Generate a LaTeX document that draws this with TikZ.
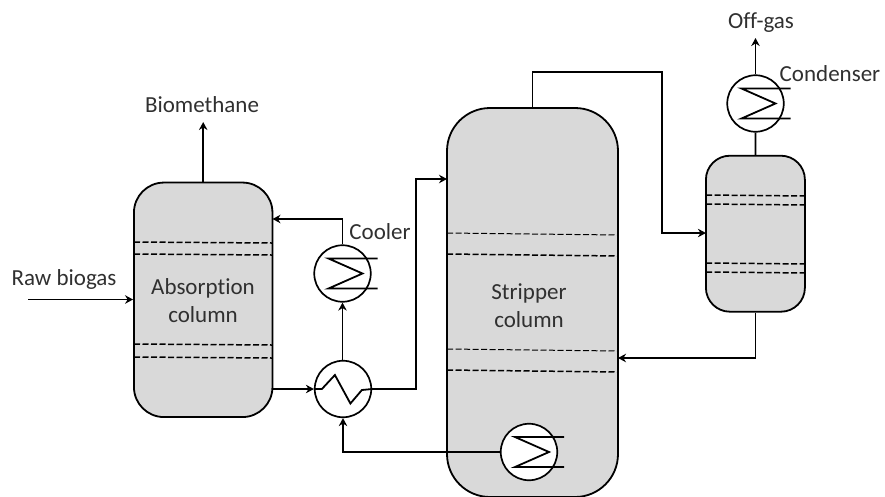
\documentclass[tikz,border=0pt]{standalone}
\usepackage{fontspec}
\setmainfont{Carlito}[Ligatures=NoCommon]
\usetikzlibrary{arrows.meta}
\definecolor{ColumnGray}{HTML}{D9D9D9}
\definecolor{LabelGray}{HTML}{303030}
\begin{document}
\begin{tikzpicture}[x=1pt,y=-1pt,>={Stealth[length=8pt,width=8.5pt]},
  font=\fontsize{23}{28}\selectfont,
  column/.style={draw=black,fill=ColumnGray,line width=1.8pt,inner sep=0pt},
  exchanger/.style={circle,draw=black,fill=white,line width=1.7pt,
    minimum size=56.5pt,inner sep=0pt},
  tray/.style={black,line width=1.5pt,dash pattern=on 6pt off 2.5pt},
  thintray/.style={tray,line width=1pt},
  pipe/.style={line width=1.8pt},
  stream/.style={pipe,->},
  tag/.style={text=LabelGray,align=center,inner sep=0pt}]
  \path[use as bounding box] (0,0) rectangle (885,496);
  % columns
  \node[column,rounded corners=30pt,minimum width=138.5pt,minimum height=234.5pt]
    (absorber) at (203.2,299.8) {};
  \node[column,rounded corners=43pt,minimum width=171pt,minimum height=389pt]
    (stripper) at (532.5,302.5) {};
  \node[column,rounded corners=24pt,minimum width=99pt,minimum height=156pt]
    (drum) at (755.4,233.7) {};
  % trays
  \draw[tray] (134,242) -- (272,243);
  \draw[tray] (134,254) -- (272,255);
  \draw[tray] (134,344) -- (272,345);
  \draw[tray] (134,357) -- (272,358);
  \draw[thintray] (447,233) -- (618,235);
  \draw[tray] (447,254) -- (618,256);
  \draw[thintray] (447,349) -- (618,351);
  \draw[tray] (447,370) -- (618,372);
  \draw[tray] (706,195) -- (805,196);
  \draw[tray] (706,204) -- (805,205);
  \draw[tray] (706,263) -- (805,264);
  \draw[tray] (706,272) -- (805,273);
  % heat exchangers
  \node[exchanger] (cooler) at (342.5,273.5) {};
  \node[exchanger] (crossflow) at (343,389) {};
  \node[exchanger] (reboiler) at (529,452) {};
  \node[exchanger] (condenser) at (755.5,103.5) {};
  \foreach \unit in {cooler,reboiler,condenser} {
    \draw[pipe] ([shift={(35,-15)}]\unit.center) -- ++(-49,0)
      -- ++(34,15) -- ++(-34,15) -- ++(49,0);
  }
  \draw[pipe] (crossflow.west) -- ++(8,0) -- ++(13,-14) -- ++(15.5,28.5)
    -- ++(11.5,-13.5) -- (crossflow.east);
  % streams
  \coordinate (biomethaneend) at (203.2,122);
  \coordinate (biogasstart) at (28,299.5);
  \coordinate (offgasend) at (755.5,38);
  \coordinate (absorberreturn) at (272.5,219);
  \coordinate (stripperfeed) at (447,179);
  \coordinate (stripperreturn) at (618,358);
  \coordinate (overheadfeed) at (705.9,233);
  \draw[stream] (absorber.north) -- (biomethaneend);
  \draw[stream] (biogasstart) -- (absorber.west |- biogasstart);
  \draw[stream] (cooler.north) |- (absorberreturn);
  \draw[stream] (crossflow.north -| cooler) -- (cooler.south);
  \draw[stream] (absorber.east |- crossflow) -- (crossflow.west);
  \draw[stream] (crossflow.east) -- (416,389) |- (stripperfeed);
  \draw[stream] (reboiler.west) -| (crossflow.south);
  \draw[stream] (stripper.north) -- (532.5,72) -- (662,72) |- (overheadfeed);
  \draw[pipe] (drum.north) -- (condenser.south);
  \draw[stream] (condenser.north) -- (offgasend);
  \draw[stream] (drum.south) |- (stripperreturn);
  % labels
  \node[tag] (biomethane) at (202,105) {Biomethane};
  \node[tag] (rawbiogas) at (64,279) {Raw biogas};
  \node[tag] (absorption) at (203,301) {Absorption\\column};
  \node[tag] (strippertext) at (529,306) {Stripper\\column};
  \node[tag] (coolerlabel) at (380,232) {Cooler};
  \node[tag] (offgas) at (761,23) {Off-gas};
  \node[tag] (condenserlabel) at (830,74) {Condenser};
\end{tikzpicture}
\end{document}
